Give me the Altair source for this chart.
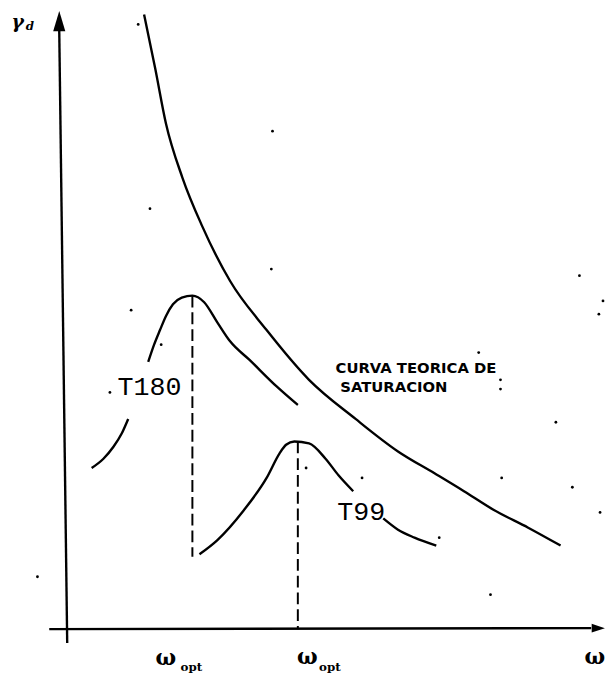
import altair as alt
import pandas as pd

# Saturation curve (curva teorica de saturacion)
sat_x = [23.1, 25.0, 26.8, 29.6, 33.0, 37.7, 43.9, 51.1, 59.0, 66.2, 72.4, 77.4, 82.4, 88.3, 93.8]
sat_y = [99.7, 91.5, 83.3, 75.1, 67.7, 59.5, 52.1, 44.6, 38.7, 33.8, 30.5, 27.8, 25.0, 22.3, 19.6]

# T180 compaction curve (two pieces, broken by the label)
t180a_x = [14.2, 16.2, 17.9, 19.3, 20.4]
t180a_y = [31.3, 32.7, 34.5, 36.5, 38.7]
t180b_x = [23.8, 24.8, 25.8, 26.8, 28.0, 29.5, 31.3, 33.3, 35.5, 37.7, 41.0, 45.6, 49.2]
t180b_y = [47.3, 49.9, 52.1, 54.2, 56.0, 57.0, 57.3, 56.3, 53.3, 50.4, 47.6, 43.6, 40.8]

# T99 compaction curve (two pieces, broken by the label)
t99a_x = [32.5, 35.5, 40.0, 43.9, 46.1, 47.2, 48.6, 51.1, 53.9, 56.1, 58.6]
t99a_y = [18.3, 20.4, 24.9, 29.8, 33.5, 34.8, 35.3, 35.0, 32.7, 30.2, 27.8]
t99b_x = [63.7, 66.2, 69.0, 72.7]
t99b_y = [23.7, 22.0, 20.8, 19.6]

# Dashed drop lines at the optimum water contents
drop_x = [31.3, 49.2]
drop_y_top = [57.3, 35.3]
drop_y_bot = [17.9, 7.0]

# Axes (hand drawn)
yaxis_x = [8.7, 10.05]
yaxis_y = [97.2, 4.9]
xaxis_x = [7.0, 99.0]
xaxis_y = [7.0, 7.15]

# Scan specks
speck_x = [22.1, 44.9, 24.1, 44.7, 20.9, 26.0, 17.3, 50.6, 60.1, 73.2, 5.0, 97.0, 101.0, 100.3,
           79.9, 83.6, 83.6, 93.0, 83.8, 95.8, 100.5, 81.9]
speck_y = [98.2, 82.1, 70.4, 61.3, 55.1, 49.9, 42.7, 31.3, 29.8, 20.8, 14.9, 60.3, 56.5, 54.5,
           48.7, 44.6, 43.2, 38.2, 29.8, 28.4, 24.6, 12.2]

XD = [0, 101.34]
YD = [0, 100]

def xs():
    return alt.X("x:Q", scale=alt.Scale(domain=XD, nice=False, zero=False), axis=None)

def ys():
    return alt.Y("y:Q", scale=alt.Scale(domain=YD, nice=False, zero=False), axis=None)

rows = []
for name, xv, yv in [("sat", sat_x, sat_y), ("t180a", t180a_x, t180a_y), ("t180b", t180b_x, t180b_y),
                     ("t99a", t99a_x, t99a_y), ("t99b", t99b_x, t99b_y),
                     ("yaxis", yaxis_x, yaxis_y), ("xaxis", xaxis_x, xaxis_y)]:
    for i, (a, b) in enumerate(zip(xv, yv)):
        rows.append({"seg": name, "i": i, "x": a, "y": b})
curves = pd.DataFrame(rows)

lines = alt.Chart(curves).mark_line(color="black", strokeWidth=2.4, interpolate="monotone").encode(
    x=xs(), y=ys(), detail="seg:N", order="i:Q")

drops = pd.DataFrame({"x": drop_x, "y": drop_y_top, "y2": drop_y_bot})
dashed = alt.Chart(drops).mark_rule(color="black", strokeWidth=2, strokeDash=[12, 5]).encode(
    x=xs(), y=ys(), y2="y2:Q")

specks = alt.Chart(pd.DataFrame({"x": speck_x, "y": speck_y})).mark_point(
    filled=True, color="black", size=8, opacity=1, shape="circle").encode(x=xs(), y=ys())

arrow_up = alt.Chart(pd.DataFrame({"x": [8.7], "y": [98.7]})).mark_point(
    filled=True, color="black", opacity=1, size=420, shape="M0,-1L0.6,1L-0.6,1Z").encode(x=xs(), y=ys())
arrow_rt = alt.Chart(pd.DataFrame({"x": [100.2], "y": [7.15]})).mark_point(
    filled=True, color="black", opacity=1, size=180, shape="M1,0L-1,0.65L-1,-0.65Z").encode(x=xs(), y=ys())

# Labels
big_lbl = pd.DataFrame({"x": [18.6, 55.9], "y": [42.3, 23.5], "t": ["T180", "T99"]})
big = alt.Chart(big_lbl).mark_text(font="Liberation Mono", fontSize=27, align="left",
                                   baseline="alphabetic", color="black").encode(x=xs(), y=ys(), text="t:N")

sat_lbl = pd.DataFrame({"x": [55.6, 56.4], "y": [45.7, 42.7], "t": ["CURVA TEORICA DE", "SATURACION"]})
sat_t = alt.Chart(sat_lbl).mark_text(font="DejaVu Sans", fontWeight="bold", fontSize=15, align="left",
                                     baseline="alphabetic", color="black").encode(x=xs(), y=ys(), text="t:N")

om_lbl = pd.DataFrame({"x": [26.8, 50.8, 99.6], "y": [1.6, 1.8, 1.8], "t": ["ω", "ω", "ω"]})
om = alt.Chart(om_lbl).mark_text(font="DejaVu Serif", fontWeight="bold", fontSize=22, align="center",
                                 baseline="alphabetic", color="black").encode(x=xs(), y=ys(), text="t:N")

sub_lbl = pd.DataFrame({"x": [29.3, 52.8], "y": [0.74, 0.74], "t": ["opt", "opt"]})
sub = alt.Chart(sub_lbl).mark_text(font="DejaVu Serif", fontWeight="bold", fontSize=12, align="left",
                                   baseline="alphabetic", color="black").encode(x=xs(), y=ys(), text="t:N")

g_lbl = pd.DataFrame({"x": [0.6, 3.0], "y": [97.7, 97.3], "t": ["γ", "d"], "s": [19, 12]})
gam = alt.Chart(g_lbl).mark_text(font="DejaVu Serif", fontWeight="bold", fontStyle="italic", align="left",
                                 baseline="alphabetic", color="black").encode(
    x=xs(), y=ys(), text="t:N", size=alt.Size("s:Q", scale=None, legend=None))

chart = alt.layer(lines, dashed, specks, arrow_up, arrow_rt, big, sat_t, om, sub, gam).properties(
    width=605, height=672, padding=0, autosize=alt.AutoSizeParams(type="none"),
    background="white"
).configure_view(stroke=None)

chart.save("out.html", embed_options={"renderer": "svg", "actions": False})
